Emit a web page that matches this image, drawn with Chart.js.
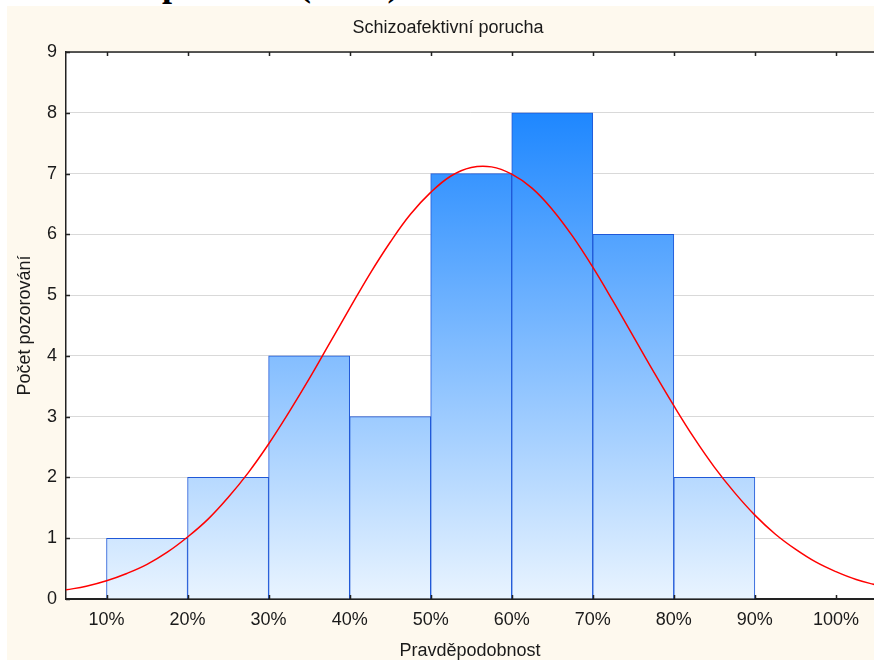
<!DOCTYPE html>
<html>
<head>
<meta charset="utf-8">
<script src="https://cdn.jsdelivr.net/npm/chart.js@4/dist/chart.umd.min.js"></script>
<style>
  html, body { margin: 0; padding: 0; background: #fff; width: 874px; height: 660px; overflow: hidden; }
  #heading { position: absolute; left: 0; top: 0; width: 874px; height: 6px; overflow: hidden; }
  #heading span { position: absolute; left: 162px; top: -34px; font: bold 36px 'Liberation Serif', 'Times New Roman', serif; line-height: 36px; color: #000; white-space: nowrap; }
  #panel { position: absolute; left: 7px; top: 6px; width: 867px; height: 654px; background: #FEF9EE; }
  #chart { position: absolute; left: 0; top: 0; }
</style>
</head>
<body>
<div id="heading"><span>porucha (n=33)</span></div>
<div id="panel"></div>
<canvas id="chart" width="874" height="660"></canvas>
<script>
// Histogram bins (centre of each 10 % class) and observed counts
const binCenters = [15, 25, 35, 45, 55, 65, 75, 85];
const counts = [1, 2, 4, 3, 7, 8, 6, 2];

// Axis ticks
const xTickValues = [10, 20, 30, 40, 50, 60, 70, 80, 90, 100];
const xTickLabels = ['10%', '20%', '30%', '40%', '50%', '60%', '70%', '80%', '90%', '100%'];
const yTickValues = [0, 1, 2, 3, 4, 5, 6, 7, 8, 9];

// Fitted normal curve, sampled every 2.5 %
const curveX = [5, 7.5, 10, 12.5, 15, 17.5, 20, 22.5, 25, 27.5, 30, 32.5, 35, 37.5, 40, 42.5, 45, 47.5, 50, 52.5,
                55, 57.5, 60, 62.5, 65, 67.5, 70, 72.5, 75, 77.5, 80, 82.5, 85, 87.5, 90, 92.5, 95, 97.5, 100, 102.5, 105];
const curveY = [0.15, 0.21, 0.30, 0.42, 0.57, 0.77, 1.02, 1.31, 1.67, 2.08, 2.55, 3.07, 3.62, 4.20, 4.78, 5.35, 5.87, 6.33, 6.69, 6.96,
                7.10, 7.11, 6.99, 6.76, 6.41, 5.97, 5.46, 4.90, 4.32, 3.74, 3.18, 2.65, 2.17, 1.75, 1.38, 1.07, 0.82, 0.61, 0.45, 0.32, 0.23];

const FONT = "'Liberation Sans', Arial, sans-serif";
const TEXT = '#1a1a1a';
const SIZE = 18;

// Vertical blue gradient shared by all bars
function barFill(ctx) {
  const chart = ctx.chart;
  if (!chart.chartArea) return '#7fbaff';
  const y = chart.scales.y;
  const g = chart.ctx.createLinearGradient(0, y.getPixelForValue(0), 0, y.getPixelForValue(8));
  g.addColorStop(0, '#E9F4FF');
  g.addColorStop(1, '#1E87FF');
  return g;
}

// White plot background, top frame line, inward tick marks and the chart title
const frame = {
  id: 'frame',
  beforeDraw(chart) {
    const { ctx, chartArea: a } = chart;
    ctx.save();
    ctx.fillStyle = '#fff';
    ctx.fillRect(a.left, a.top, a.right - a.left, a.bottom - a.top);
    ctx.restore();
  },
  afterDraw(chart) {
    const { ctx, chartArea: a, scales } = chart;
    ctx.save();
    ctx.strokeStyle = '#222';
    ctx.lineWidth = 1.5;
    ctx.beginPath();
    ctx.moveTo(a.left, a.top);
    ctx.lineTo(a.right, a.top);
    ctx.stroke();

    ctx.beginPath();
    xTickValues.forEach(v => {
      const px = Math.round(scales.x.getPixelForValue(v)) + 0.5;
      ctx.moveTo(px, a.bottom); ctx.lineTo(px, a.bottom - 4);
      ctx.moveTo(px, a.top); ctx.lineTo(px, a.top + 4);
    });
    yTickValues.forEach(v => {
      const py = Math.round(scales.y.getPixelForValue(v)) + 0.5;
      ctx.moveTo(a.left, py); ctx.lineTo(a.left + 4, py);
    });
    ctx.stroke();

    ctx.fillStyle = TEXT;
    ctx.font = SIZE + 'px ' + FONT;
    ctx.textAlign = 'center';
    ctx.textBaseline = 'middle';
    ctx.fillText('Schizoafektivní porucha', 448, 28);
    ctx.restore();
  }
};

new Chart(document.getElementById('chart'), {
  type: 'bar',
  data: {
    datasets: [
      {
        type: 'line',
        data: curveX.map((x, i) => ({ x, y: curveY[i] })),
        borderColor: '#FF0000',
        borderWidth: 1.5,
        pointRadius: 0,
        tension: 0.4,
        fill: false,
        order: 0
      },
      {
        type: 'bar',
        data: binCenters.map((x, i) => ({ x, y: counts[i] })),
        backgroundColor: barFill,
        borderColor: '#1F58D8',
        borderWidth: 1,
        barPercentage: 1,
        categoryPercentage: 1,
        order: 1
      }
    ]
  },
  options: {
    responsive: false,
    animation: false,
    layout: { padding: { top: 52, left: 0, right: 0, bottom: 0 } },
    plugins: { legend: { display: false }, tooltip: { enabled: false }, title: { display: false } },
    scales: {
      x: {
        type: 'linear',
        offset: false,
        min: 5,
        max: 104.7,
        afterBuildTicks: s => { s.ticks = xTickValues.map(v => ({ value: v })); },
        afterFit: s => { s.height = 61; },
        ticks: {
          callback: v => xTickLabels[xTickValues.indexOf(v)],
          font: { family: FONT, size: SIZE },
          color: TEXT,
          padding: 10,
          maxRotation: 0,
          autoSkip: false
        },
        grid: { display: false, drawTicks: false },
        border: { color: '#222', width: 2 },
        title: { display: true, text: 'Pravděpodobnost', font: { family: FONT, size: SIZE, lineHeight: 1 }, color: TEXT, padding: 0 }
      },
      y: {
        min: 0,
        max: 9,
        afterBuildTicks: s => { s.ticks = yTickValues.map(v => ({ value: v })); },
        afterFit: s => { s.width = 66; },
        ticks: {
          font: { family: FONT, size: SIZE },
          color: TEXT,
          padding: 9
        },
        grid: { color: '#D9D9D9', drawTicks: false },
        border: { color: '#222', width: 1.5 },
        title: { display: true, text: 'Počet pozorování', font: { family: FONT, size: SIZE }, color: TEXT, padding: { top: 14, bottom: 0 } }
      }
    }
  },
  plugins: [frame]
});
</script>
</body>
</html>
